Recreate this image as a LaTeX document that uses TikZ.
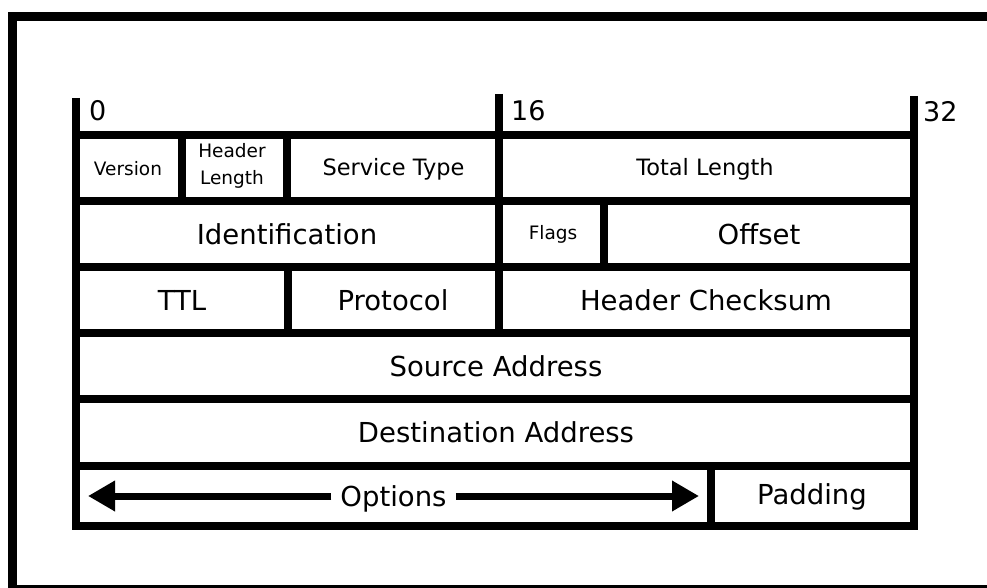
\documentclass[tikz,border=0pt]{standalone}
\usepackage{fontspec}
\setmainfont{DejaVu Sans}
\usetikzlibrary{arrows.meta}
\begin{document}
\begin{tikzpicture}[x=1pt,y=-1pt,
  rule/.style={line width=8pt},
  big/.style={font=\fontsize{27.5}{33}\selectfont, text height=20pt, text depth=0pt, inner sep=0pt},
  mid/.style={font=\fontsize{22.5}{27}\selectfont, text height=16.4pt, text depth=0pt, inner sep=0pt},
  small/.style={font=\fontsize{18.5}{27}\selectfont, text height=13.5pt, text depth=0pt, inner sep=0pt},
  bitlbl/.style={font=\fontsize{27}{32}\selectfont, anchor=base west, inner sep=0pt},
  optarrow/.style={line width=7pt, -{Triangle[length=27pt,width=29pt]}}]
\useasboundingbox (0,0) rectangle (987,588);
\clip (0,0) rectangle (987,588);
% outer frame
\draw[line width=9pt] (12.5,16.5) rectangle (1000,589.5);
% horizontal rules
\foreach \yy in {135.5,201,267,333,399,465.5,526}
  \draw[rule] (72,\yy) -- (917.5,\yy);
% outer verticals and bit ticks
\draw[rule] (76,98) -- (76,530);
\draw[rule] (913.5,96) -- (913.5,530);
\draw[rule] (499,94) -- (499,333);
% inner dividers
\draw[rule] (181.5,135.5) -- (181.5,201);
\draw[rule] (287,135.5) -- (287,201);
\draw[rule] (604,201) -- (604,267);
\draw[rule] (287.5,267) -- (287.5,333);
\draw[rule] (710.5,465.5) -- (710.5,526);
% bit labels
\node[bitlbl] (b0) at (89,121) {0};
\node[bitlbl] (b16) at (511,121) {16};
\node[bitlbl] (b32) at (923,122) {32};
% row 1
\node[small] (ver) at (128,169) {Version};
\node[font=\fontsize{18.5}{27}\selectfont, align=center, inner sep=0pt] (hl) at (232,165.4) {Header\\Length};
\node[mid] (st) at (393.5,167) {Service Type};
\node[mid] (tl) at (705,167) {Total Length};
% row 2
\node[big] (id) at (287,234) {Identification};
\node[small] (fl) at (553,233) {Flags};
\node[big] (off) at (759,234) {Offset};
% row 3
\node[big] (ttl) at (182,300) {TTL};
\node[big] (prot) at (393,300) {Protocol};
\node[big] (hc) at (706,300) {Header Checksum};
% row 4, 5
\node[big] (src) at (496,366) {Source Address};
\node[big] (dst) at (496,432) {Destination Address};
% row 6
\node[big, inner xsep=9pt] (opt) at (393.5,496) {Options};
\coordinate (optl) at (88,496);
\coordinate (optr) at (699,496);
\draw[optarrow] (opt.west) -- (optl);
\draw[optarrow] (opt.east) -- (optr);
\node[big] (pad) at (812,494) {Padding};
\end{tikzpicture}
\end{document}
